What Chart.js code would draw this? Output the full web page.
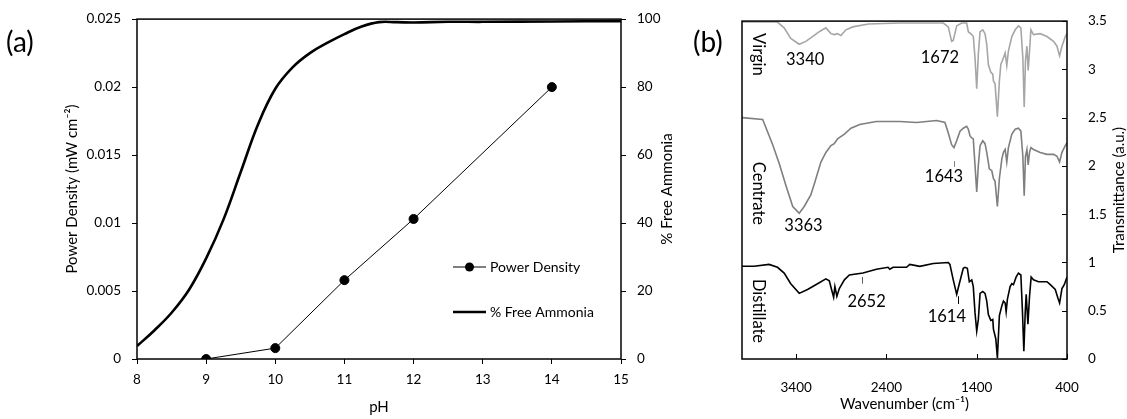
<!DOCTYPE html>
<html>
<head>
<meta charset="utf-8">
<script src="https://cdn.jsdelivr.net/npm/chart.js@4.4.1/dist/chart.umd.min.js"></script>
<style>
    html, body { margin: 0; padding: 0; background: #fff; overflow: hidden; }
    #wrap { position: relative; width: 1127px; height: 419px; }
    canvas { position: absolute; top: 0; }
    #chart-a { left: 0; }
    #chart-b { left: 680px; }
</style>
</head>
<body>
<div id="wrap">
    <canvas id="chart-a" width="680" height="419"></canvas>
    <canvas id="chart-b" width="447" height="419"></canvas>
</div>
<script>
// panel (a)
const phPower = [9, 10, 11, 12, 14];
const powerDensity = [0, 0.0008, 0.0058, 0.0103, 0.020];
const phAmmonia = [8, 8.25, 8.5, 8.75, 9, 9.25, 9.5, 9.75, 10, 10.25, 10.5, 10.75, 11, 11.25, 11.5, 11.75, 12, 12.5, 13, 14, 15];
const freeAmmonia = [3.8, 8.4, 13.6, 20.3, 29.6, 41, 55, 69, 79.5, 85.8, 90, 93, 95.6, 97.8, 99.1, 99.1, 99.0, 99.2, 99.2, 99.3, 99.4];

// panel (b) FTIR spectra
const virginWn = [4000, 3800, 3607, 3533, 3460, 3366, 3293, 3219, 3144, 3071, 3015, 2978, 2941, 2904, 2849, 2774, 2600, 2252, 1770, 1715, 1678, 1660, 1622, 1567, 1511, 1493, 1455, 1438, 1419, 1400, 1382, 1363, 1333, 1308, 1289, 1271, 1244, 1222, 1215, 1197, 1171, 1149, 1133, 1104, 1085, 1067, 1049, 1011, 974, 938, 911, 889, 874, 860, 844, 830, 815, 800, 771, 697, 622, 549, 511, 482, 456, 419, 400];
const virginT = [3.49, 3.49, 3.49, 3.43, 3.32, 3.26, 3.29, 3.34, 3.39, 3.43, 3.37, 3.36, 3.37, 3.35, 3.41, 3.44, 3.47, 3.48, 3.48, 3.44, 3.29, 3.30, 3.45, 3.48, 3.48, 3.39, 3.36, 3.34, 3.12, 2.80, 3.16, 3.39, 3.41, 3.37, 3.26, 3.05, 2.97, 2.95, 2.88, 2.85, 2.51, 2.88, 3.05, 3.12, 3.17, 3.04, 3.19, 3.34, 3.41, 3.45, 3.43, 3.12, 2.61, 3.09, 3.24, 2.99, 3.19, 3.41, 3.36, 3.37, 3.34, 3.29, 3.24, 3.14, 3.24, 3.34, 3.37];

const centrateWn = [4000, 3771, 3660, 3586, 3511, 3438, 3366, 3311, 3238, 3200, 3126, 3071, 3015, 2978, 2941, 2866, 2793, 2696, 2511, 2252, 2067, 1844, 1752, 1715, 1678, 1652, 1622, 1585, 1549, 1511, 1493, 1474, 1455, 1438, 1419, 1400, 1382, 1363, 1333, 1308, 1289, 1260, 1233, 1215, 1197, 1171, 1149, 1122, 1104, 1085, 1067, 1049, 1011, 974, 938, 911, 889, 874, 860, 844, 830, 815, 800, 771, 697, 622, 549, 511, 482, 456, 419, 400];
const centrateT = [2.50, 2.48, 2.22, 2.02, 1.79, 1.58, 1.51, 1.58, 1.70, 1.81, 2.04, 2.14, 2.21, 2.23, 2.28, 2.33, 2.39, 2.43, 2.46, 2.46, 2.45, 2.47, 2.45, 2.34, 2.22, 2.19, 2.26, 2.36, 2.39, 2.41, 2.38, 2.31, 2.29, 2.28, 2.01, 1.73, 2.01, 2.21, 2.26, 2.23, 2.14, 1.97, 1.95, 1.87, 1.84, 1.58, 1.87, 2.07, 2.14, 2.17, 2.04, 2.19, 2.33, 2.38, 2.39, 2.36, 2.10, 1.69, 2.10, 2.17, 2.01, 2.14, 2.19, 2.17, 2.14, 2.12, 2.12, 2.10, 2.04, 2.14, 2.21, 2.24];

const distillateWn = [4000, 3866, 3700, 3607, 3533, 3460, 3366, 3274, 3163, 3071, 3033, 3008, 2985, 2971, 2949, 2922, 2866, 2811, 2660, 2511, 2382, 2363, 2327, 2178, 2141, 2030, 1882, 1715, 1697, 1660, 1622, 1593, 1549, 1530, 1504, 1482, 1455, 1438, 1419, 1400, 1382, 1363, 1333, 1308, 1289, 1271, 1244, 1222, 1215, 1189, 1171, 1149, 1122, 1104, 1085, 1074, 1060, 1030, 1011, 993, 963, 938, 911, 893, 878, 863, 852, 833, 815, 797, 771, 716, 660, 622, 585, 530, 500, 482, 456, 430, 400];
const distillateT = [0.96, 0.96, 0.98, 0.95, 0.89, 0.78, 0.68, 0.72, 0.78, 0.83, 0.81, 0.72, 0.64, 0.75, 0.65, 0.73, 0.82, 0.87, 0.89, 0.93, 0.95, 0.93, 0.95, 0.95, 0.98, 0.96, 0.99, 1.00, 0.98, 0.82, 0.67, 0.78, 0.94, 0.95, 0.94, 0.80, 0.82, 0.75, 0.48, 0.29, 0.41, 0.68, 0.70, 0.68, 0.60, 0.46, 0.40, 0.41, 0.31, 0.21, 0.01, 0.45, 0.55, 0.60, 0.58, 0.49, 0.62, 0.75, 0.78, 0.77, 0.85, 0.89, 0.87, 0.48, 0.08, 0.48, 0.67, 0.36, 0.65, 0.85, 0.82, 0.80, 0.80, 0.80, 0.77, 0.72, 0.63, 0.58, 0.73, 0.77, 0.85];

const irTicks = [3400, 2400, 1400, 400];

// peak labels (wavenumber, transmittance) and the little marker lines
const peakNotes = [
    {wn: 3300, t: 3.10, text: '3340'},
    {wn: 1808, t: 3.12, text: '1672'},
    {wn: 1763, t: 1.89, text: '1643'},
    {wn: 3319, t: 1.38, text: '3363'},
    {wn: 2620, t: 0.59, text: '2652'},
    {wn: 1731, t: 0.44, text: '1614'},
];
const peakMarks = [
    {wn: 1652, t0: 2.05, t1: 1.99, color: '#808080'},
    {wn: 2667, t0: 0.85, t1: 0.78, color: '#606060'},
    {wn: 1604, t0: 0.65, t1: 0.57, color: '#000'},
];
const sampleNames = [
    {t: 3.155, text: 'Virgin'},
    {t: 1.715, text: 'Centrate'},
    {t: 0.497, text: 'Distillate'},
];

Chart.defaults.font.family = 'Lato, "Open Sans", sans-serif';
Chart.defaults.font.size = 13.5;
Chart.defaults.color = '#000';

const toXY = (xs, ys) => xs.map((x, i) => ({x: x, y: ys[i]}));
const trimNum = v => String(+v.toFixed(4));

const tickGrid = {drawOnChartArea: false, color: '#000', tickLength: 5, tickWidth: 1};

const framePlugin = {
    id: 'frame',
    afterDraw(chart, args, opts) {
        const {ctx, chartArea: a} = chart;
        ctx.save();
        ctx.strokeStyle = '#000';
        ctx.lineWidth = 1.5;
        ctx.strokeRect(a.left, a.top, a.right - a.left, a.bottom - a.top);

        ctx.fillStyle = '#000';
        ctx.font = '28px Lato, sans-serif';
        ctx.textAlign = 'left';
        ctx.textBaseline = 'middle';
        ctx.fillText(opts.panel, opts.panelX, 43);

        ctx.translate(a.right + opts.sideOffset, (a.top + a.bottom) / 2);
        ctx.rotate(-Math.PI / 2);
        ctx.font = '15px Lato, sans-serif';
        ctx.textAlign = 'center';
        ctx.fillText(opts.sideTitle, 0, 0);
        ctx.restore();
    }
};

const legendPlugin = {
    id: 'boxLegend',
    afterDraw(chart) {
        const {ctx, chartArea: a} = chart;
        const ds = chart.data.datasets;
        const x0 = a.right - 168;
        const rows = [a.bottom - 92, a.bottom - 47];
        ctx.save();
        ctx.fillStyle = '#000';
        ctx.strokeStyle = '#000';
        ctx.font = '14px Lato, sans-serif';
        ctx.textBaseline = 'middle';
        ds.forEach((d, i) => {
            const y = rows[i];
            ctx.lineWidth = d.borderWidth;
            ctx.beginPath();
            ctx.moveTo(x0, y);
            ctx.lineTo(x0 + 33, y);
            ctx.stroke();
            if (d.pointRadius > 0) {
                ctx.beginPath();
                ctx.arc(x0 + 16.5, y, d.pointRadius, 0, Math.PI * 2);
                ctx.fill();
            }
            ctx.fillText(d.label, x0 + 37, y);
        });
        ctx.restore();
    }
};

const spectraPlugin = {
    id: 'spectraNotes',
    afterDraw(chart) {
        const {ctx, chartArea: a, scales} = chart;
        const sx = scales.x, sy = scales.y;
        ctx.save();
        ctx.fillStyle = '#000';
        ctx.textAlign = 'center';
        ctx.textBaseline = 'middle';
        ctx.font = '16.5px Lato, sans-serif';
        peakNotes.forEach(n => {
            ctx.fillText(n.text, sx.getPixelForValue(n.wn), sy.getPixelForValue(n.t));
        });
        ctx.lineWidth = 1;
        peakMarks.forEach(m => {
            const x = Math.round(sx.getPixelForValue(m.wn)) + 0.5;
            ctx.strokeStyle = m.color;
            ctx.beginPath();
            ctx.moveTo(x, sy.getPixelForValue(m.t0));
            ctx.lineTo(x, sy.getPixelForValue(m.t1));
            ctx.stroke();
        });
        // inward tick marks
        ctx.strokeStyle = '#000';
        sx.ticks.forEach(t => {
            const x = Math.round(sx.getPixelForValue(t.value)) + 0.5;
            ctx.beginPath();
            ctx.moveTo(x, a.bottom);
            ctx.lineTo(x, a.bottom - 5);
            ctx.stroke();
        });
        sy.ticks.forEach(t => {
            const y = Math.round(sy.getPixelForValue(t.value)) + 0.5;
            ctx.beginPath();
            ctx.moveTo(a.right, y);
            ctx.lineTo(a.right - 5, y);
            ctx.stroke();
        });
        // sample names, rotated
        sampleNames.forEach(s => {
            ctx.save();
            ctx.translate(a.left + 16, sy.getPixelForValue(s.t));
            ctx.rotate(Math.PI / 2);
            ctx.fillText(s.text, 0, 0);
            ctx.restore();
        });
        ctx.restore();
    }
};

new Chart(document.getElementById('chart-a'), {
    type: 'line',
    data: {
        datasets: [
            {
                label: 'Power Density',
                data: toXY(phPower, powerDensity),
                yAxisID: 'y',
                borderColor: '#000',
                backgroundColor: '#000',
                borderWidth: 1,
                pointRadius: 4.5,
                pointHoverRadius: 4.5,
                tension: 0,
            },
            {
                label: '% Free Ammonia',
                data: toXY(phAmmonia, freeAmmonia),
                yAxisID: 'y1',
                borderColor: '#000',
                backgroundColor: '#000',
                borderWidth: 2.6,
                pointRadius: 0,
                tension: 0.4,
            },
        ]
    },
    options: {
        responsive: false,
        animation: false,
        events: [],
        layout: {padding: {top: 14, left: 0, right: 0, bottom: 0}},
        plugins: {
            legend: {display: false},
            tooltip: {enabled: false},
            frame: {panel: '(a)', panelX: 6, sideTitle: '% Free Ammonia', sideOffset: 46},
        },
        scales: {
            x: {
                type: 'linear', min: 8, max: 15,
                ticks: {stepSize: 1, padding: 8},
                grid: tickGrid,
                border: {display: false},
                title: {display: true, text: 'pH', font: {size: 15}, padding: {top: 0, bottom: 3}},
                afterFit: s => { s.height = 60; },
            },
            y: {
                position: 'left', min: 0, max: 0.025,
                ticks: {stepSize: 0.005, padding: 11, callback: trimNum},
                grid: tickGrid,
                border: {display: false},
                title: {display: true, text: 'Power Density (mW cm⁻²)', font: {size: 15}, padding: {top: 63, bottom: 0}},
                afterFit: s => { s.width = 137; },
            },
            y1: {
                position: 'right', min: 0, max: 100,
                ticks: {stepSize: 20, padding: 11},
                grid: tickGrid,
                border: {display: false},
                afterFit: s => { s.width = 59; },
            },
        }
    },
    plugins: [framePlugin, legendPlugin],
});

new Chart(document.getElementById('chart-b'), {
    type: 'line',
    data: {
        datasets: [
            {label: 'Virgin', data: toXY(virginWn, virginT), borderColor: '#a6a6a6', borderWidth: 1.6, pointRadius: 0, tension: 0},
            {label: 'Centrate', data: toXY(centrateWn, centrateT), borderColor: '#7f7f7f', borderWidth: 1.6, pointRadius: 0, tension: 0},
            {label: 'Distillate', data: toXY(distillateWn, distillateT), borderColor: '#000', borderWidth: 1.6, pointRadius: 0, tension: 0},
        ]
    },
    options: {
        responsive: false,
        animation: false,
        events: [],
        layout: {padding: {top: 14, left: 62, right: 0, bottom: 0}},
        plugins: {
            legend: {display: false},
            tooltip: {enabled: false},
            frame: {panel: '(b)', panelX: 13, sideTitle: 'Transmittance (a.u.)', sideOffset: 52},
        },
        scales: {
            x: {
                type: 'linear', min: 400, max: 4000, reverse: true,
                afterBuildTicks: s => { s.ticks = irTicks.map(v => ({value: v})); },
                ticks: {padding: 13, callback: trimNum},
                grid: {display: false},
                border: {display: false},
                title: {display: true, text: 'Wavenumber (cm⁻¹)', font: {size: 15}, padding: {top: 0, bottom: 6}},
                afterFit: s => { s.height = 60; },
            },
            y: {
                position: 'right', min: 0, max: 3.5,
                ticks: {stepSize: 0.5, padding: 13, callback: trimNum},
                grid: {display: false},
                border: {display: false},
                afterFit: s => { s.width = 60; },
            },
        }
    },
    plugins: [framePlugin, spectraPlugin],
});
</script>
</body>
</html>
